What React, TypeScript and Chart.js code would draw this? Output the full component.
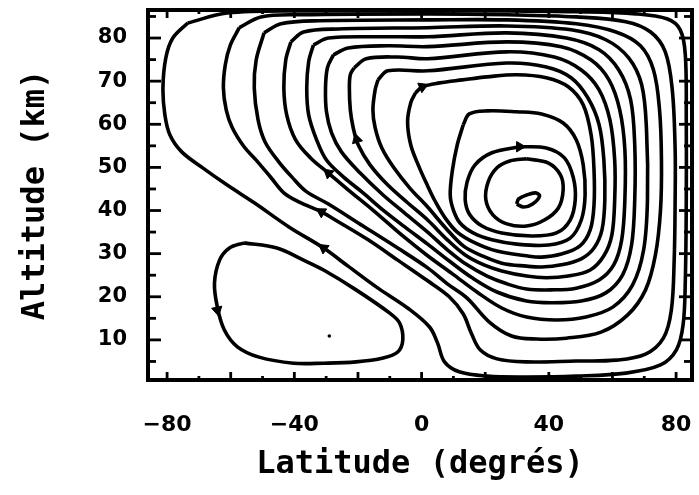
import React, { useEffect, useRef } from "react";
import { Chart, registerables } from "chart.js";

Chart.register(...registerables);

// Tick labels and tick marks
const xTickLabels = [-80, -40, 0, 40, 80];
const yTickLabels = [10, 20, 30, 40, 50, 60, 70, 80];
const xTickMarks = [-80, -70, -60, -50, -40, -30, -20, -10, 0, 10, 20, 30, 40, 50, 60, 70, 80];
const yTickMarks = [5, 10, 15, 20, 25, 30, 35, 40, 45, 50, 55, 60, 65, 70, 75, 80, 85];

// Streamlines: [latitude (deg), altitude (km)]
const lineO1 = [[-73.5,83.5],[-61.1,85.8],[-38.6,86.3],[1.9,86.3],[26.8,86.3],[48.6,86.1],[67.3,85.6],[77.3,84.4],[81.3,81.9],[82.9,76.1],[83.2,61.0],[83.2,42.5],[82.9,23.9],[82.2,13.5],[80.1,7.7],[75.1,4.2],[64.2,2.3],[48.6,1.6],[33.0,1.4],[20.6,1.6],[11.8,2.6],[7.2,4.9],[5.0,9.3],[2.5,13.0],[-4.4,17.4],[-13.7,22.0],[-23.1,27.1],[-30.8,31.3],[-41.7,36.2],[-52.6,41.8],[-61.1,45.9],[-68.8,49.9],[-75.4,53.6],[-79.1,57.5],[-80.7,62.2],[-81.3,68.4],[-80.4,75.4],[-78.2,80.0],[-73.5,83.5]];
const lineO2 = [[-57.3,82.4],[-50.5,84.9],[-38.6,85.4],[1.9,85.6],[26.8,85.4],[48.6,84.9],[64.2,83.8],[72.0,81.4],[76.6,76.8],[78.8,68.0],[79.7,54.1],[79.7,42.5],[79.4,28.5],[78.5,16.9],[76.0,10.4],[70.4,6.7],[61.1,5.3],[48.6,5.1],[33.0,4.9],[23.7,5.6],[18.4,7.7],[15.6,11.6],[13.1,16.0],[8.7,20.0],[1.9,23.7],[-7.5,28.5],[-16.8,33.2],[-26.2,37.4],[-31.5,39.7],[-38.6,42.0],[-43.3,44.1],[-47.3,47.6],[-52.0,51.7],[-55.8,54.8],[-59.5,59.2],[-61.4,63.3],[-62.3,68.4],[-61.7,73.8],[-60.1,78.4],[-57.3,82.4]];
const lineO3 = [[-49.5,81.2],[-44.2,83.3],[-32.4,84.0],[1.9,84.2],[26.8,84.2],[48.6,83.3],[61.1,81.4],[68.8,78.2],[72.9,72.6],[74.8,63.3],[75.4,51.7],[75.1,40.1],[73.5,29.7],[70.4,21.6],[64.8,15.8],[56.4,11.8],[45.5,10.4],[36.1,10.2],[28.3,10.9],[21.2,14.2],[14.3,19.7],[8.1,23.0],[1.9,26.7],[-7.5,31.3],[-18.4,36.4],[-29.3,41.5],[-36.4,44.5],[-40.8,47.8],[-44.9,51.3],[-49.2,55.9],[-51.4,61.0],[-52.6,68.4],[-52.0,74.9],[-49.5,81.2]];
const lineO4 = [[-41.1,79.1],[-37.1,81.4],[-26.2,82.1],[1.9,82.4],[26.8,82.8],[47.0,81.9],[57.9,79.6],[65.1,75.4],[69.2,69.1],[70.7,58.7],[71.0,42.5],[69.8,30.9],[66.3,22.7],[60.1,17.6],[51.7,15.3],[42.4,14.6],[33.0,15.3],[25.2,17.4],[17.4,21.1],[9.7,25.3],[1.9,29.5],[-5.9,34.1],[-15.3,40.1],[-23.1,44.8],[-29.3,48.7],[-34.9,52.2],[-39.6,56.4],[-42.4,62.2],[-43.3,68.4],[-42.7,74.9],[-41.1,79.1]];
const lineO5 = [[-34.0,78.4],[-29.3,80.0],[-13.7,80.3],[1.9,80.3],[26.8,81.2],[45.5,80.0],[55.8,77.3],[62.0,72.6],[65.7,65.7],[67.0,55.2],[67.0,42.5],[66.0,32.0],[63.2,25.1],[57.9,20.9],[50.2,19.0],[40.8,18.6],[33.0,19.0],[23.7,21.1],[15.9,24.4],[8.7,28.3],[1.9,32.2],[-5.3,36.2],[-12.1,40.1],[-18.4,44.1],[-24.6,47.8],[-29.9,51.7],[-33.0,56.4],[-35.5,62.2],[-36.1,68.4],[-35.5,74.5],[-34.0,78.4]];
const lineO6 = [[-27.7,76.1],[-23.1,77.7],[-10.6,78.2],[1.9,78.0],[26.8,79.1],[43.9,78.0],[53.3,74.9],[58.9,70.3],[62.3,63.3],[63.9,54.1],[63.9,42.5],[62.9,33.2],[60.4,27.4],[55.8,23.9],[48.6,22.0],[40.8,21.6],[33.0,21.8],[26.8,23.0],[20.6,24.8],[14.3,27.4],[8.1,30.9],[1.9,35.0],[-5.3,39.4],[-12.1,43.6],[-19.3,48.7],[-25.2,53.6],[-28.3,58.0],[-29.9,62.9],[-30.2,68.4],[-29.6,73.1],[-27.7,76.1]];
const lineO7 = [[-21.2,73.1],[-17.4,75.2],[-7.5,75.6],[1.9,75.2],[26.8,76.8],[41.7,75.6],[50.2,72.6],[55.8,68.0],[59.2,61.0],[60.7,51.7],[60.7,42.5],[59.8,34.3],[57.3,29.5],[53.0,26.2],[46.1,24.8],[39.2,24.4],[33.0,24.8],[25.2,26.0],[19.6,27.4],[13.7,29.7],[8.1,33.2],[1.9,37.8],[-4.4,41.8],[-10.6,45.9],[-16.2,50.6],[-19.9,55.2],[-21.5,59.2],[-22.4,63.3],[-22.7,68.4],[-22.4,71.5],[-21.2,73.1]];
const lineO8 = [[-13.7,70.3],[-10.6,72.4],[1.9,72.4],[26.8,74.2],[39.2,73.3],[47.0,70.8],[52.3,66.1],[55.8,59.9],[57.3,51.7],[57.6,42.5],[56.7,35.5],[54.2,31.3],[50.2,28.8],[43.9,27.4],[37.7,26.9],[33.0,27.1],[25.2,27.8],[19.0,29.5],[13.1,31.8],[7.5,36.0],[1.9,40.8],[-3.7,45.2],[-8.7,49.9],[-12.5,54.5],[-14.6,59.2],[-15.3,63.3],[-14.6,68.0],[-13.7,70.3]];
const lineO9 = [[-1.9,67.3],[0.3,68.7],[5.6,69.6],[12.8,70.3],[20.6,71.0],[29.9,71.5],[39.2,70.8],[46.1,68.7],[50.8,64.5],[53.3,57.5],[54.2,49.4],[54.2,41.3],[53.0,35.5],[49.8,31.8],[43.9,29.9],[37.7,29.2],[33.0,29.5],[23.7,30.6],[16.8,32.5],[11.2,35.0],[7.2,38.5],[4.0,42.5],[1.9,45.7],[-0.9,50.3],[-3.4,55.2],[-4.4,60.6],[-3.4,65.0],[-1.9,67.3]];
const lineK4 = [[13.1,59.9],[15.0,62.4],[20.6,63.1],[29.9,62.9],[37.7,62.4],[44.5,60.3],[48.6,56.4],[50.8,50.6],[51.4,43.6],[50.2,37.8],[46.7,33.6],[39.9,32.0],[29.9,32.2],[22.1,33.2],[16.2,34.8],[12.1,37.1],[10.0,40.1],[9.0,43.6],[9.7,49.4],[11.2,55.2],[13.1,59.9]];
const lineK3 = [[30.8,54.8],[39.2,54.5],[44.9,52.2],[47.7,47.6],[48.3,42.5],[46.7,37.8],[42.4,34.8],[34.6,34.1],[25.2,34.8],[19.0,36.4],[15.0,39.2],[13.7,42.5],[14.3,46.6],[16.8,50.6],[22.1,53.4],[30.8,54.8]];
const lineK2 = [[33.0,52.0],[39.9,51.0],[43.6,48.3],[44.5,44.8],[43.0,40.6],[38.6,37.8],[33.0,36.4],[26.8,36.9],[22.4,39.0],[20.2,42.5],[20.9,46.6],[23.7,49.9],[27.7,51.5],[33.0,52.0]];
const lineK1 = [[29.9,41.5],[32.1,40.8],[34.9,41.5],[37.1,43.4],[35.8,44.1],[33.0,43.6],[30.5,42.7],[29.9,41.5]];
const lineSouthCell = [[-55.8,32.5],[-45.5,31.3],[-37.1,28.5],[-30.8,26.2],[-20.6,21.6],[-10.0,16.2],[-6.9,13.9],[-5.9,10.0],[-7.5,7.2],[-12.1,5.8],[-20.6,4.9],[-30.8,4.6],[-40.2,4.6],[-51.1,6.0],[-57.9,8.4],[-62.0,12.3],[-64.2,17.6],[-65.1,23.2],[-63.5,28.5],[-60.4,31.3],[-55.8,32.5]];

// Arrow heads on streamlines and the small center dot
const arrowPoints = [[-64.2,16.9],[-30.8,31.3],[-31.5,39.7],[-29.3,48.7],[-20.4,56.5],[0.3,68.7],[30.8,54.8]];
const centerDot = [[-29.0,10.9]];

// styling only
const arrowRotation = [168, -54, -59, -50, -16, 67, 90];

const streamlines = [lineO1, lineO2, lineO3, lineO4, lineO5, lineO6, lineO7, lineO8, lineO9, lineK4, lineK3, lineK2, lineK1, lineSouthCell];

const toXY = (arr: number[][]) => arr.map(([x, y]) => ({ x, y }));

const framePlugin = {
  id: "frameTicks",
  afterDatasetsDraw(chart: any) {
    const { ctx, chartArea: a, scales } = chart;
    ctx.save();
    ctx.strokeStyle = "#000";
    ctx.lineCap = "butt";
    ctx.lineWidth = 2.8;
    const seg = (x1: number, y1: number, x2: number, y2: number) => {
      ctx.beginPath();
      ctx.moveTo(x1, y1);
      ctx.lineTo(x2, y2);
      ctx.stroke();
    };
    xTickMarks.forEach((v) => {
      const px = scales.x.getPixelForValue(v);
      const len = v % 20 === 0 ? 8 : 4;
      seg(px, a.bottom, px, a.bottom - len);
      seg(px, a.top, px, a.top + len);
    });
    yTickMarks.forEach((v) => {
      const py = scales.y.getPixelForValue(v);
      const len = v % 10 === 0 ? 13 : 8;
      seg(a.left, py, a.left + len, py);
      seg(a.right, py, a.right - len, py);
    });
    ctx.lineWidth = 4;
    ctx.strokeRect(a.left, a.top, a.right - a.left, a.bottom - a.top);
    ctx.restore();
  },
};

const zeroPadding = (s: any) => {
  s.paddingLeft = 0;
  s.paddingRight = 0;
  s.paddingTop = 0;
  s.paddingBottom = 0;
};

export default function App() {
  const ref = useRef<HTMLCanvasElement>(null);
  useEffect(() => {
    if (!ref.current) return;
    const datasets: any[] = streamlines.map((s) => ({
      data: toXY(s),
      showLine: true,
      borderColor: "#000",
      borderWidth: 3.6,
      pointRadius: 0,
      tension: 0.35,
      fill: false,
    }));
    datasets.push({
      data: toXY(arrowPoints),
      showLine: false,
      pointStyle: "triangle",
      pointRadius: 6,
      rotation: arrowRotation,
      backgroundColor: "#000",
      borderColor: "#000",
      borderWidth: 1,
    });
    datasets.push({
      data: toXY(centerDot),
      showLine: false,
      pointRadius: 1.8,
      backgroundColor: "#000",
      borderColor: "#000",
      borderWidth: 0,
    });
    const chart = new Chart(ref.current, {
      type: "scatter",
      data: { datasets },
      options: {
        animation: false,
        responsive: false,
        devicePixelRatio: 1,
        events: [],
        layout: { padding: { top: 10, right: 2, left: 0, bottom: 0 } },
        plugins: { legend: { display: false }, tooltip: { enabled: false } },
        scales: {
          x: {
            type: "linear",
            min: -86,
            max: 85,
            afterBuildTicks: (s: any) => {
              s.ticks = xTickLabels.map((v) => ({ value: v }));
            },
            afterFit: (s: any) => {
              s.height = 115;
              zeroPadding(s);
            },
            grid: { display: false, drawTicks: false },
            border: { display: false },
            ticks: {
              padding: 32,
              color: "#000",
              maxRotation: 0,
              autoSkip: false,
              font: { family: "'DejaVu Sans', sans-serif", size: 22, weight: "bold" },
              callback: (v: any) => (Number(v) < 0 ? "\u2212" + Math.abs(Number(v)) : String(v)),
            },
            title: {
              display: true,
              text: "Latitude (degrés)",
              color: "#000",
              font: { family: "'DejaVu Sans Mono', monospace", size: 32, weight: "bold" },
              padding: { top: 0, bottom: 11 },
            },
          },
          y: {
            type: "linear",
            min: 0.7,
            max: 86.5,
            afterBuildTicks: (s: any) => {
              s.ticks = yTickLabels.map((v) => ({ value: v }));
            },
            afterFit: (s: any) => {
              s.width = 148;
              zeroPadding(s);
            },
            grid: { display: false, drawTicks: false },
            border: { display: false },
            ticks: {
              padding: 21,
              color: "#000",
              autoSkip: false,
              font: { family: "'DejaVu Sans', sans-serif", size: 21, weight: "bold" },
            },
            title: {
              display: true,
              text: "Altitude (km)",
              color: "#000",
              font: { family: "'DejaVu Sans Mono', monospace", size: 32, weight: "bold" },
              padding: { top: 16, bottom: 0 },
            },
          },
        },
      },
      plugins: [framePlugin],
    });
    return () => chart.destroy();
  }, []);
  return (
    <div style={{ position: "fixed", left: 0, top: 0, width: 699, height: 495, background: "#fff" }}>
      <canvas ref={ref} width={699} height={495} style={{ display: "block", width: 699, height: 495 }} />
    </div>
  );
}
